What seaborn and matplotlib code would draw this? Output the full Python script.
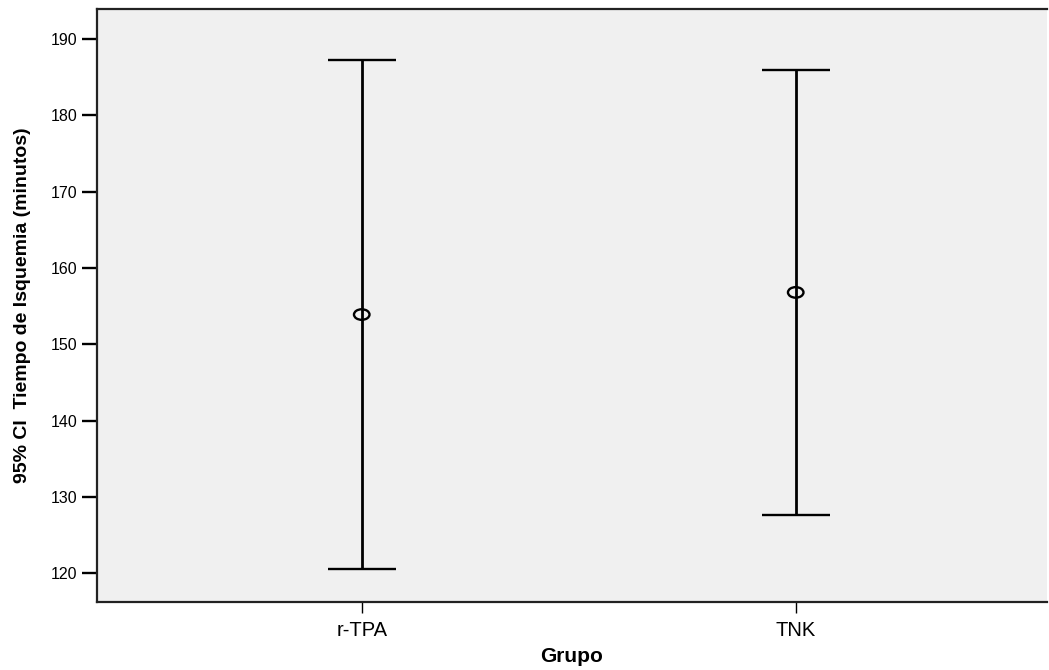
import numpy as np
import pandas as pd
import matplotlib
matplotlib.use("Agg")
import matplotlib.pyplot as plt
import seaborn as sns
from matplotlib.path import Path
from matplotlib.transforms import Affine2D

# Datos (IC 95% del tiempo de isquemia)
grupos = ["r-TPA", "TNK"]
medias = [153.9, 156.8]
ic_inf = [120.5, 127.7]
ic_sup = [187.2, 185.9]
yticks = [120, 130, 140, 150, 160, 170, 180, 190]

df = pd.DataFrame({"Grupo": grupos, "media": medias, "inf": ic_inf, "sup": ic_sup})

sns.set_theme(style="ticks")
plt.rcParams["font.family"] = ["Liberation Sans", "DejaVu Sans"]
plt.rcParams["text.color"] = "black"
plt.rcParams["axes.labelcolor"] = "black"
plt.rcParams["xtick.labelcolor"] = "black"
plt.rcParams["ytick.labelcolor"] = "black"

fig = plt.figure(figsize=(10.49, 6.70), dpi=100)
ax = fig.add_axes([97 / 1049, 68 / 670, 950 / 1049, 593 / 670])
ax.set_facecolor("#f0f0f0")

# barras de error (IC 95%)
yerr = np.array([df["media"] - df["inf"], df["sup"] - df["media"]])
ax.errorbar(df["Grupo"], df["media"], yerr=yerr, fmt="none", ecolor="black",
            elinewidth=2.0, capsize=24.8, capthick=1.7, zorder=2)

# media como circulo abierto algo achatado
elipse = Path.unit_circle().transformed(Affine2D().scale(1.0, 0.68))
sns.scatterplot(data=df, x="Grupo", y="media", marker=elipse, s=125,
                facecolors="none", edgecolor="black", linewidth=1.7,
                zorder=3, ax=ax)

ax.set_xlim(-0.61, 1.579)
ax.set_ylim(116.24, 193.93)
ax.set_yticks(yticks)

ax.set_xlabel("Grupo", fontsize=15, fontweight="bold", labelpad=5)
ax.set_ylabel("95% CI  Tiempo de Isquemia (minutos)", fontsize=14,
              fontweight="bold", labelpad=14)

ax.tick_params(axis="y", length=11, width=1.7, labelsize=11.5, pad=3, color="black")
ax.tick_params(axis="x", length=8, width=1.0, labelsize=14.5, pad=6, color="black")

for lado in ["left", "bottom", "top"]:
    ax.spines[lado].set_linewidth(1.6)
    ax.spines[lado].set_color("#222222")
ax.spines["right"].set_visible(False)

fig.savefig("out.png", dpi=100)
